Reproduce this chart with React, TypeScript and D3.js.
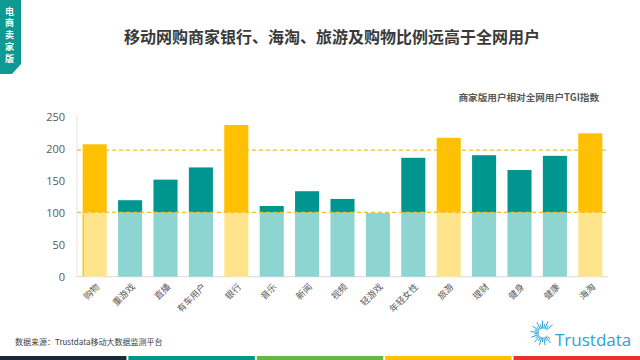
import React from "react";
import * as d3 from "d3";

const categories = ["购物", "重游戏", "直播", "有车用户", "银行", "音乐", "新闻", "视频", "轻游戏", "年轻女性", "旅游", "理财", "健身", "健康", "海淘"];
const tgiValues = [206, 119, 151, 170, 236, 110, 133, 121, 99, 185, 216, 189, 166, 188, 223];
const highlighted = ["购物", "银行", "旅游", "海淘"];
const yTicks = [0, 50, 100, 150, 200, 250];
const refLines = [100, 197];
const stripColors = ["#1B2A3A", "#00968F", "#6AB542", "#FFC000", "#E8312E"];

const W = 640;
const H = 360;

export default function App() {
  const x = d3.scaleBand<string>().domain(categories).range([77, 608]).paddingInner(0.32).paddingOuter(0.16);
  const y = d3.scaleLinear().domain([0, 250]).range([276.7, 116]);
  const bw = x.bandwidth();
  const cjk = "'Noto Sans CJK SC', 'Noto Sans', sans-serif";
  const latin = "'Open Sans', 'Noto Sans', sans-serif";

  const rays = d3.range(0, 22).map((i) => {
    const a = (40 + i * (280 / 21)) * Math.PI / 180;
    const r1 = 4.5;
    const r2 = i % 2 === 0 ? 12.5 : 9;
    return { a, r1, r2 };
  });

  const stripX = d3.scaleBand<number>().domain(d3.range(stripColors.length)).range([0, W]).paddingInner(0.015);

  return (
    <svg width={W} height={H} style={{ position: "absolute", left: 0, top: 0, background: "#fff" }}>
      {/* left tab */}
      <path d="M0,0 L21,0 L21,64 L12,74 L0,74 Z" fill="#0E9A94" />
      {"电商卖家版".split("").map((c, i) => (
        <text key={c + i} x={9.5} y={11 + i * 11.8} fontFamily={cjk} fontWeight="bold" fontSize={9} fill="#fff" textAnchor="middle" dominantBaseline="central">{c}</text>
      ))}

      {/* title */}
      <text x={332} y={36} fontFamily={cjk} fontWeight="bold" fontSize={16} fill="#3A3A3A" textAnchor="middle" dominantBaseline="central">
        移动网购商家银行、海淘、旅游及购物比例远高于全网用户
      </text>
      <text x={599} y={97} fontFamily={cjk} fontWeight="bold" fontSize={9.6} fill="#595959" textAnchor="end" dominantBaseline="central">
        商家版用户相对全网用户TGI指数
      </text>

      {/* axes */}
      <line x1={77} x2={77} y1={y(250)} y2={y(0)} stroke="#E3E3E3" strokeWidth={1} />
      <line x1={77} x2={608} y1={y(0)} y2={y(0)} stroke="#D9D9D9" strokeWidth={1} />
      {yTicks.map((t) => (
        <text key={t} x={65} y={y(t)} fontFamily={latin} fontSize={11} fill="#595959" textAnchor="end" dominantBaseline="central">{t}</text>
      ))}

      {/* bars */}
      {categories.map((c, i) => {
        const v = tgiValues[i];
        const hl = highlighted.includes(c);
        const lower = Math.min(v, 100);
        const bx = x(c) as number;
        return (
          <g key={c}>
            <rect x={bx} y={y(lower)} width={bw} height={y(0) - y(lower)} fill={hl ? "#FFE48C" : "#8ED4D0"} />
            {v > 100 && (
              <rect x={bx} y={y(v)} width={bw} height={y(100) - y(v)} fill={hl ? "#FFC000" : "#00968F"} />
            )}
          </g>
        );
      })}
      <line x1={(x(categories[0]) as number) + 0.5} x2={(x(categories[0]) as number) + 0.5} y1={y(100)} y2={y(0)} stroke="#F5B800" strokeWidth={1} />

      {/* reference lines */}
      {refLines.map((r) => (
        <line key={r} x1={77} x2={608} y1={y(r)} y2={y(r)} stroke="#F2BE22" strokeWidth={1.3} strokeDasharray="4,3" />
      ))}

      {/* x labels */}
      {categories.map((c) => {
        const cx = (x(c) as number) + bw / 2 + 3;
        const cy = 285;
        return (
          <text key={c} x={cx} y={cy} transform={`rotate(-45 ${cx} ${cy})`} fontFamily={cjk} fontSize={9} fill="#595959" textAnchor="end" dominantBaseline="central">{c}</text>
        );
      })}

      {/* footer */}
      <text x={15} y={341} fontFamily={cjk} fontSize={8} fill="#404040" dominantBaseline="central">数据来源：Trustdata移动大数据监测平台</text>

      {/* logo */}
      <g transform="translate(543,333)">
        {rays.map((r, i) => (
          <line key={i} x1={Math.cos(r.a) * r.r1} y1={-Math.sin(r.a) * r.r1} x2={Math.cos(r.a) * r.r2} y2={-Math.sin(r.a) * r.r2} stroke="#2AA3D8" strokeWidth={1} />
        ))}
      </g>
      <text x={555} y={339} fontFamily="'Open Sans', 'Noto Sans', sans-serif" fontSize={17} fill="#2AA3D8" dominantBaseline="central">Trustdata</text>

      {/* bottom strip */}
      {stripColors.map((col, i) => (
        <rect key={col} x={stripX(i) as number} y={356} width={stripX.bandwidth()} height={4} fill={col} />
      ))}
    </svg>
  );
}
